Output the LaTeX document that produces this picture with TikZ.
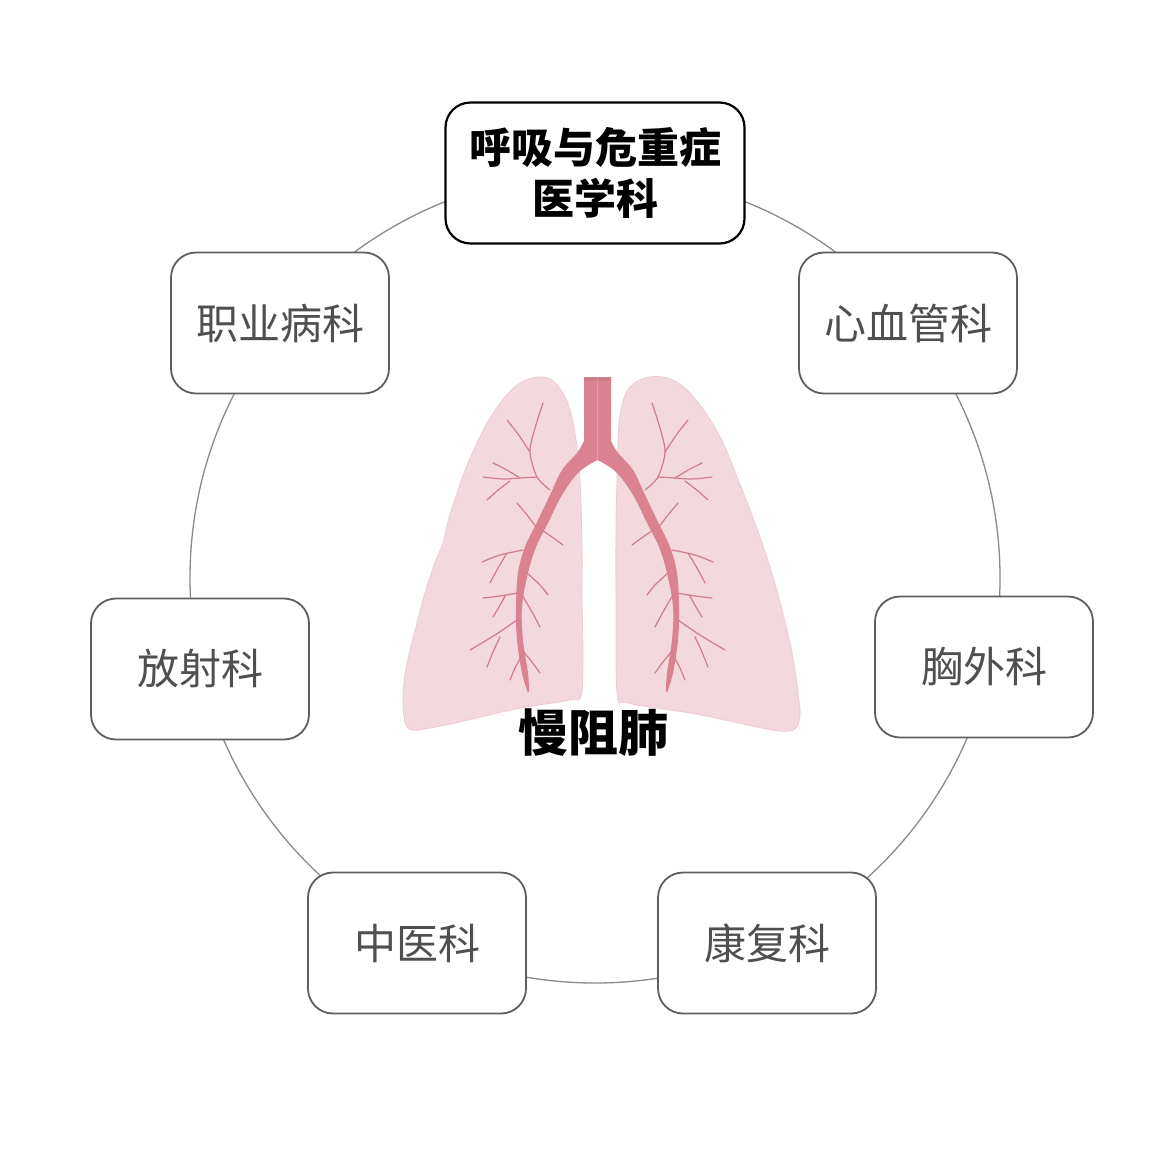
\documentclass[tikz,border=0pt]{standalone}
\usepackage{fontspec}
\newfontfamily\cjk{Noto Sans CJK SC}
\definecolor{ringgray}{HTML}{8A8A8A}
\definecolor{boxgray}{HTML}{5E5E5E}
\definecolor{textgray}{HTML}{4F4F4F}
\definecolor{lungfill}{HTML}{F3D8DD}
\definecolor{lungedge}{HTML}{EDCAD1}
\definecolor{bronch}{HTML}{DA8290}
\definecolor{twig}{HTML}{CF7D8D}
\tikzset{
  dept/.style={draw=boxgray, line width=1.8pt, rounded corners=25pt, fill=white,
    minimum width=218pt, minimum height=141pt, inner sep=0pt, text=textgray,
    font=\cjk\fontsize{42}{50}\selectfont},
  mainbox/.style={dept, draw=black, line width=2.2pt, minimum width=299pt, text=black,
    align=center, font=\cjk\bfseries\fontsize{42}{51}\selectfont},
  branch/.style={draw=twig, line width=1.2pt, line cap=round}
}
\begin{document}
\begin{tikzpicture}[x=1pt,y=-1pt]
\useasboundingbox (0,0) rectangle (1174,1152);
\fill[white] (0,0) rectangle (1174,1152);

% ring
\node[circle, draw=ringgray, line width=1.3pt, minimum size=810pt, inner sep=0pt] (ring) at (595,578) {};

% lungs
\filldraw[fill=lungfill, draw=lungedge, line width=0.8pt] plot[smooth cycle, tension=0.6] coordinates {
 (537,377) (520,383) (505,397) (490,418) (477,443) (466,468) (457,493) (449,518)
 (443,543) (436,560) (430,577) (423,600) (416,627) (410,650) (405,675) (403,700)
 (405,722) (412,730) (430,728) (455,723) (485,716) (515,709) (545,704) (570,700)
 (581,696) (583,660) (582,600) (582,547) (580,480) (576,440) (570,410) (562,392) (552,380)};
\filldraw[fill=lungfill, draw=lungedge, line width=0.8pt] plot[smooth cycle, tension=0.6] coordinates {
 (650,377) (636,382) (626,393) (620,415) (618,443) (617,480) (616,527) (616,600)
 (617,693) (625,702) (650,707) (690,713) (725,720) (757,727) (780,731) (795,729)
 (800,715) (798,693) (795,670) (790,643) (782,610) (773,577) (762,543) (750,510)
 (737,477) (723,443) (707,415) (690,393) (675,381) (662,377)};

% bronchial tree (left half, then mirrored)
\foreach \m/\s in {1/0,-1/1195}{
\begin{scope}[xshift=\s pt, xscale=\m]
\fill[bronch] (584,377) -- (584,440) -- plot[smooth, tension=0.6] coordinates {
  (584,441) (577,453) (562,470) (550,495) (537,522) (525,547) (518,573) (516,607)
  (517,640) (522,673) (528,693)}
  -- plot[smooth, tension=0.6] coordinates {
  (529,691) (528,673) (523,640) (522,607) (528,573) (536,547) (548,523) (562,495)
  (579,472) (597.5,460)} -- (597.5,377) -- cycle;
\draw[branch] plot[smooth] coordinates {(550,490) (537,477) (530,452) (535,428) (543,403)};
\draw[branch] plot[smooth] coordinates {(530,452) (518,434) (507,420)};
\draw[branch] plot[smooth] coordinates {(537,477) (520,478) (503,479) (483,477)};
\draw[branch] plot[smooth] coordinates {(520,478) (505,469) (493,463)};
\draw[branch] plot[smooth] coordinates {(510,481) (497,491) (487,500)};
\draw[branch] plot[smooth] coordinates {(537,528) (527,515) (517,503)};
\draw[branch] plot[smooth] coordinates {(539,528) (552,537) (563,545)};
\draw[branch] plot[smooth] coordinates {(523,550) (500,555) (482,562)};
\draw[branch] plot[smooth] coordinates {(507,553) (498,568) (490,583)};
\draw[branch] plot[smooth] coordinates {(527,573) (540,585) (548,595)};
\draw[branch] plot[smooth] coordinates {(518,593) (500,596) (483,598)};
\draw[branch] plot[smooth] coordinates {(505,596) (499,607) (493,617)};
\draw[branch] plot[smooth] coordinates {(522,595) (532,612) (540,627)};
\draw[branch] plot[smooth] coordinates {(517,620) (495,635) (470,650)};
\draw[branch] plot[smooth] coordinates {(500,637) (493,652) (487,667)};
\draw[branch] plot[smooth] coordinates {(522,650) (532,662) (540,673)};
\draw[branch] plot[smooth] coordinates {(522,655) (515,668) (510,680)};
\end{scope}}
\fill[bronch!85!black, opacity=0.35] (584,377) rectangle (611,381);

\node[font=\cjk\bfseries\fontsize{50}{56}\selectfont, text=black] (copd) at (593,733) {慢阻肺};

% departments
\node[mainbox] (resp) at (595,173) {呼吸与危重症\\医学科};
\node[dept] (occ)  at (280,323) {职业病科};
\node[dept] (card) at (908,323) {心血管科};
\node[dept] (rad)  at (200,669) {放射科};
\node[dept] (thor) at (984,667) {胸外科};
\node[dept] (tcm)  at (417,943) {中医科};
\node[dept] (rehab) at (767,943) {康复科};
\end{tikzpicture}
\end{document}
